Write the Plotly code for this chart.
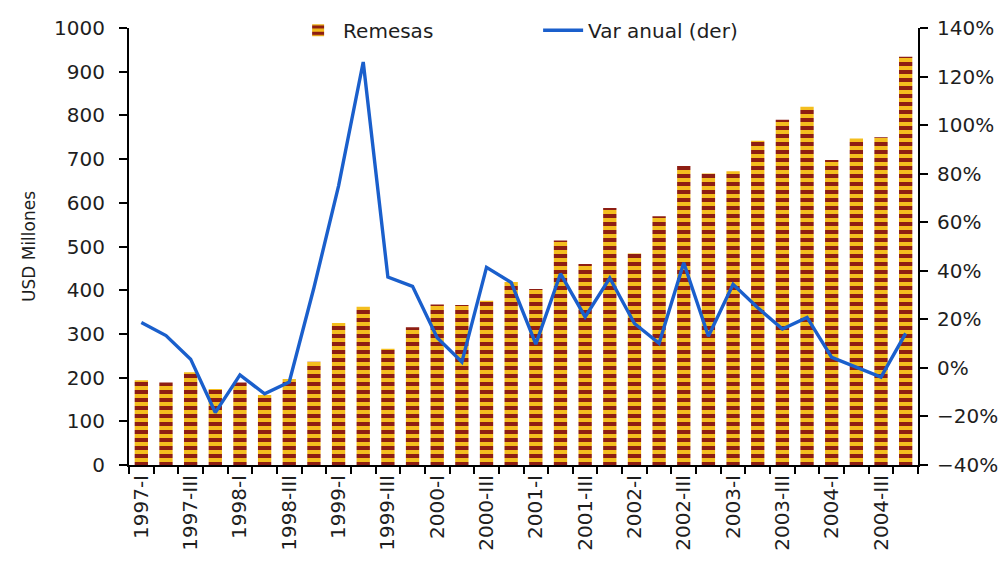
import plotly.graph_objects as go

quarters = [
    "1997-I", "1997-II", "1997-III", "1997-IV",
    "1998-I", "1998-II", "1998-III", "1998-IV",
    "1999-I", "1999-II", "1999-III", "1999-IV",
    "2000-I", "2000-II", "2000-III", "2000-IV",
    "2001-I", "2001-II", "2001-III", "2001-IV",
    "2002-I", "2002-II", "2002-III", "2002-IV",
    "2003-I", "2003-II", "2003-III", "2003-IV",
    "2004-I", "2004-II", "2004-III", "2004-IV",
]

remesas = [
    194, 189, 212, 174,
    189, 160, 197, 236,
    325, 362, 266, 315,
    367, 366, 376, 419,
    403, 514, 460, 588,
    484, 569, 684, 667,
    672, 742, 790, 820,
    698, 747, 750, 934,
]

var_anual = [
    0.187, 0.133, 0.036, -0.184,
    -0.029, -0.107, -0.058, 0.33,
    0.75, 1.26, 0.374, 0.336,
    0.124, 0.024, 0.414, 0.352,
    0.098, 0.388, 0.21, 0.37,
    0.183, 0.101, 0.433, 0.13,
    0.344, 0.248, 0.16, 0.208,
    0.043, 0.002, -0.038, 0.142,
]

tick_text = [q if i % 2 == 0 else "" for i, q in enumerate(quarters)]

FONT = "DejaVu Sans"
TXT = "#1e1e1e"

fig = go.Figure()
fig.add_trace(go.Bar(
    x=quarters, y=remesas, name="Remesas",
    marker=dict(
        color="#F2B81C",
        line=dict(width=0),
        pattern=dict(shape="-", bgcolor="#F4BE1E", fgcolor="#8E1E12",
                     size=8, solidity=0.5, fillmode="replace"),
    ),
    yaxis="y",
))
fig.add_trace(go.Scatter(
    x=quarters, y=var_anual, name="Var anual (der)",
    mode="lines", line=dict(color="#1A5FCC", width=3.4),
    yaxis="y2",
))

fig.update_layout(
    width=990, height=551,
    margin=dict(l=121, r=80, t=20, b=94, autoexpand=False),
    paper_bgcolor="white", plot_bgcolor="white",
    font=dict(family=FONT, color=TXT, size=20),
    bargap=0.46,
    showlegend=True,
    legend=dict(
        orientation="h", x=0.208, xanchor="left", y=0.995, yanchor="middle",
        font=dict(size=20, color=TXT), bgcolor="rgba(255,255,255,0)",
        entrywidth=190, entrywidthmode="pixels", itemwidth=40,
    ),
    xaxis=dict(
        type="category", tickmode="array", tickvals=quarters, ticktext=tick_text,
        tickson="boundaries", ticks="outside", ticklen=7, tickcolor="black",
        tickwidth=1.5, tickangle=-90, showline=True, linecolor="black",
        linewidth=2, showgrid=False, tickfont=dict(size=20, color=TXT),
        range=[-0.5, len(quarters) - 0.5], automargin=False,
    ),
    yaxis=dict(
        range=[0, 1000], dtick=100, ticks="outside", ticklen=8,
        tickcolor="black", tickwidth=1.5, showline=True, linecolor="black",
        linewidth=2, showgrid=False, zeroline=False, automargin=False,
        tickfont=dict(size=20, color=TXT), ticklabelstandoff=10,
        title=dict(text="USD Millones", font=dict(size=17, color=TXT), standoff=14),
    ),
    yaxis2=dict(
        range=[-0.4, 1.4], dtick=0.2, tickformat=".0%", overlaying="y",
        side="right", ticks="outside", ticklen=8, tickcolor="black",
        tickwidth=1.5, showline=True, linecolor="black", linewidth=2,
        showgrid=False, zeroline=False, tickfont=dict(size=20, color=TXT),
        ticklabelstandoff=5, automargin=False,
    ),
)

fig.write_html("out.html")
